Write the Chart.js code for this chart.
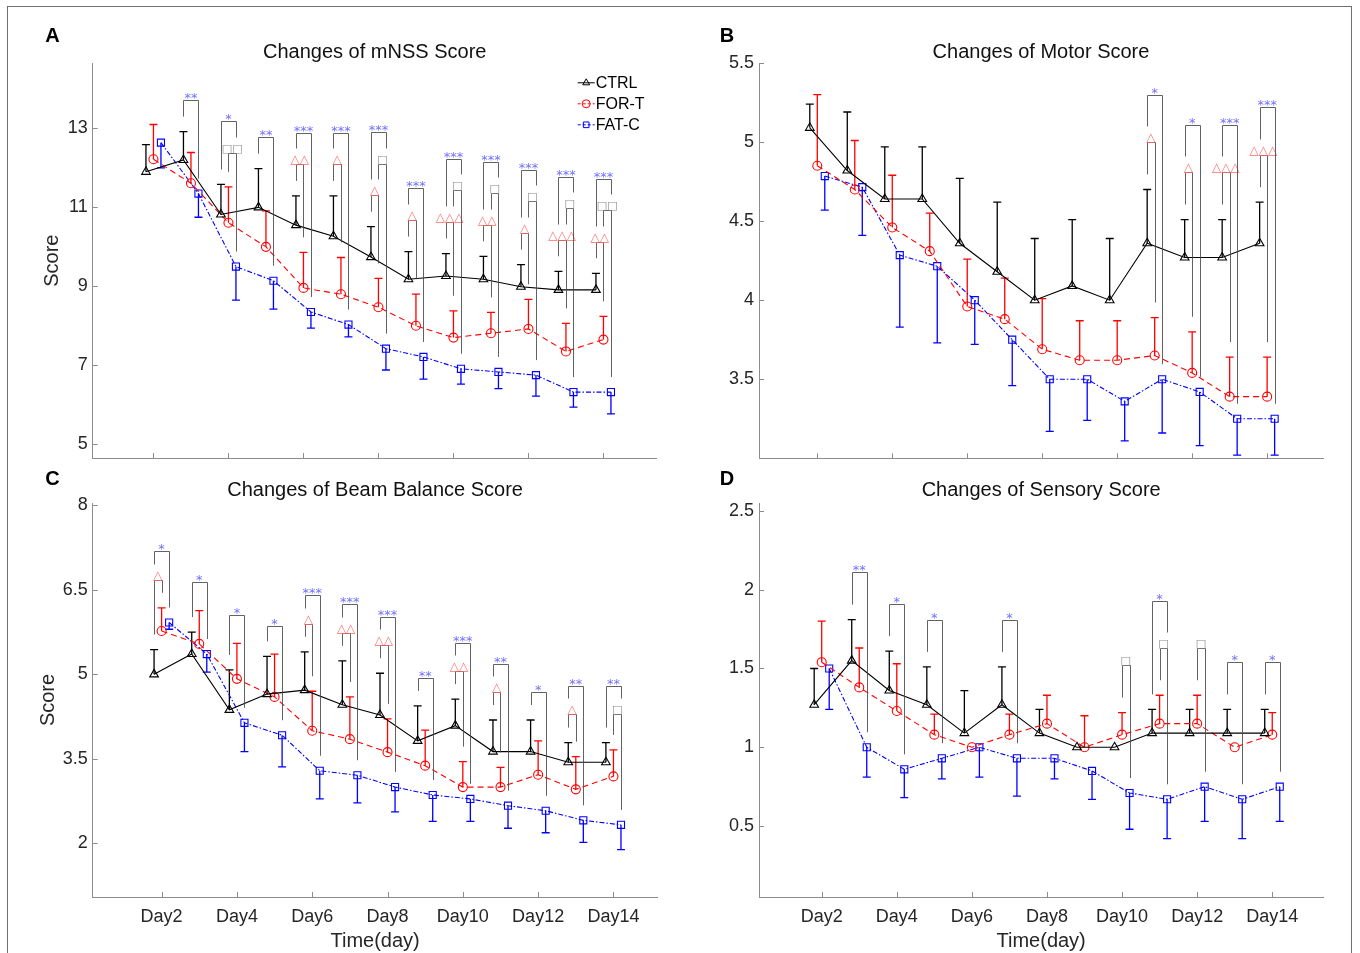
<!DOCTYPE html>
<html>
<head>
<meta charset="utf-8">
<title>Score changes</title>
<script src="https://cdn.jsdelivr.net/npm/chart.js@4.4.1/dist/chart.umd.min.js"></script>
<style>
  html, body { margin: 0; padding: 0; background: #fff; }
  body { position: relative; width: 1360px; height: 953px; overflow: hidden; }
  #frame { position: absolute; left: 7px; top: 6px; width: 1343px; height: 990px; border: 1px solid #707070; }
  canvas { position: absolute; }
</style>
</head>
<body>
<div id="frame"></div>
<canvas id="cA" width="680" height="480" style="left:0;top:0"></canvas>
<canvas id="cB" width="680" height="480" style="left:680px;top:0"></canvas>
<canvas id="cC" width="680" height="513" style="left:0;top:440px"></canvas>
<canvas id="cD" width="680" height="513" style="left:680px;top:440px"></canvas>
<script>
// jours et libellés
const days = [2, 3, 4, 5, 6, 7, 8, 9, 10, 11, 12, 13, 14];
const tickDays = [2, 4, 6, 8, 10, 12, 14];
const dayLabels = ['Day2', 'Day4', 'Day6', 'Day8', 'Day10', 'Day12', 'Day14'];
const seriesNames = ['CTRL', 'FOR-T', 'FAT-C'];

// A - mNSS
const mnssTicks = [5, 7, 9, 11, 13];
const mnssCtrl = [11.90, 12.20, 10.82, 11.00, 10.55, 10.27, 9.74, 9.18, 9.26, 9.18, 8.99, 8.91, 8.91];
const mnssCtrlSd = [0.69, 0.72, 0.76, 0.98, 0.74, 1.02, 0.77, 0.70, 0.57, 0.58, 0.56, 0.47, 0.42];
const mnssFort = [12.22, 11.61, 10.61, 10.00, 8.96, 8.80, 8.47, 8.00, 7.70, 7.81, 7.92, 7.35, 7.65];
const mnssFortSd = [0.88, 0.78, 0.91, 0.91, 0.90, 0.93, 0.73, 0.80, 0.68, 0.53, 0.75, 0.71, 0.59];
const mnssFatc = [12.64, 11.35, 9.50, 9.14, 8.35, 8.03, 7.42, 7.21, 6.91, 6.83, 6.75, 6.32, 6.32];
const mnssFatcSd = [0.64, 0.60, 0.85, 0.72, 0.41, 0.31, 0.54, 0.56, 0.39, 0.42, 0.53, 0.38, 0.55];
const mnssStars = [0, 2, 1, 2, 3, 3, 3, 3, 3, 3, 3, 3, 3];
const mnssTri = [0, 0, 0, 0, 2, 1, 1, 1, 3, 2, 1, 3, 2];
const mnssSq = [0, 0, 2, 0, 0, 0, 1, 0, 1, 1, 1, 1, 2];

// B - Motor
const motorTicks = [3.5, 4, 4.5, 5, 5.5];
const motorCtrl = [5.09, 4.82, 4.64, 4.64, 4.36, 4.18, 4.00, 4.09, 4.00, 4.36, 4.27, 4.27, 4.36];
const motorCtrlSd = [0.15, 0.37, 0.33, 0.33, 0.41, 0.44, 0.39, 0.42, 0.39, 0.34, 0.24, 0.24, 0.26];
const motorFort = [4.85, 4.70, 4.46, 4.31, 3.96, 3.88, 3.69, 3.62, 3.62, 3.65, 3.54, 3.39, 3.39];
const motorFortSd = [0.45, 0.31, 0.33, 0.24, 0.30, 0.26, 0.32, 0.25, 0.25, 0.24, 0.26, 0.25, 0.25];
const motorFatc = [4.785, 4.715, 4.285, 4.215, 4.00, 3.75, 3.50, 3.50, 3.36, 3.50, 3.42, 3.25, 3.25];
const motorFatcSd = [0.215, 0.305, 0.455, 0.485, 0.28, 0.29, 0.33, 0.26, 0.25, 0.34, 0.34, 0.23, 0.23];
const motorStars = [0, 0, 0, 0, 0, 0, 0, 0, 0, 1, 1, 3, 3];
const motorTri = [0, 0, 0, 0, 0, 0, 0, 0, 0, 1, 1, 3, 3];
const motorSq = [0, 0, 0, 0, 0, 0, 0, 0, 0, 0, 0, 0, 0];

// C - Beam Balance
const beamTicks = [2, 3.5, 5, 6.5, 8];
const beamCtrl = [5.00, 5.36, 4.37, 4.65, 4.72, 4.46, 4.28, 3.82, 4.09, 3.63, 3.63, 3.44, 3.44];
const beamCtrlSd = [0.44, 0.39, 0.71, 0.67, 0.68, 0.78, 0.74, 0.62, 0.47, 0.56, 0.56, 0.35, 0.35];
const beamFort = [5.77, 5.54, 4.92, 4.60, 4.00, 3.85, 3.62, 3.38, 3.00, 3.00, 3.22, 2.96, 3.19];
const beamFortSd = [0.41, 0.59, 0.63, 0.76, 0.70, 0.75, 0.59, 0.63, 0.45, 0.35, 0.60, 0.58, 0.47];
const beamFatc = [5.92, 5.36, 4.14, 3.92, 3.29, 3.21, 3.00, 2.86, 2.79, 2.67, 2.58, 2.41, 2.33];
const beamFatcSd = [0.12, 0.32, 0.51, 0.56, 0.50, 0.49, 0.44, 0.47, 0.40, 0.40, 0.39, 0.39, 0.44];
const beamStars = [1, 1, 1, 1, 3, 3, 3, 2, 3, 2, 1, 2, 2];
const beamTri = [1, 0, 0, 0, 1, 2, 2, 0, 2, 1, 0, 1, 0];
const beamSq = [0, 0, 0, 0, 0, 0, 0, 0, 0, 0, 0, 0, 1];

// D - Sensory
const sensTicks = [0.5, 1, 1.5, 2, 2.5];
const sensCtrl = [1.27, 1.55, 1.36, 1.27, 1.09, 1.27, 1.09, 1.00, 1.00, 1.09, 1.09, 1.09, 1.09];
const sensCtrlSd = [0.23, 0.26, 0.25, 0.24, 0.27, 0.24, 0.15, 0, 0, 0.15, 0.15, 0.15, 0.15];
const sensFort = [1.54, 1.38, 1.23, 1.08, 1.00, 1.08, 1.15, 1.00, 1.08, 1.15, 1.15, 1.00, 1.08];
const sensFortSd = [0.26, 0.25, 0.30, 0.13, 0, 0.13, 0.18, 0.20, 0.14, 0.18, 0.18, 0, 0.14];
const sensFatc = [1.50, 1.00, 0.86, 0.93, 1.00, 0.93, 0.93, 0.85, 0.71, 0.67, 0.75, 0.67, 0.75];
const sensFatcSd = [0.26, 0.19, 0.18, 0.13, 0.19, 0.24, 0.13, 0.18, 0.23, 0.25, 0.22, 0.25, 0.22];
const sensStars = [0, 2, 1, 1, 0, 1, 0, 0, 0, 1, 0, 1, 1];
const sensTri = [0, 0, 0, 0, 0, 0, 0, 0, 0, 0, 0, 0, 0];
const sensSq = [0, 0, 0, 0, 0, 0, 0, 0, 1, 1, 1, 0, 0];

const family = "'Liberation Sans', Arial, Helvetica, sans-serif";
const axisColor = '#8c8c8c';
const textColor = '#262626';
const bracketColor = 'rgba(70,70,70,0.85)';

// style des séries : décalage en x, sens de la barre d'erreur
const seriesStyle = [
    { color: '#000000', dash: [], point: 'triangle', radius: 5, dx: -0.2, dir: 1 },
    { color: '#ff0000', dash: [6, 4], point: 'circle', radius: 4.5, dx: 0, dir: 1 },
    { color: '#0000ff', dash: [5, 2, 1.5, 2], point: 'rect', radius: 5, dx: 0.2, dir: -1 }
];

function marker(ctx, style, x, y, r) {
    ctx.beginPath();
    if (style === 'triangle') {
        ctx.moveTo(x, y - r);
        ctx.lineTo(x + r * 0.866, y + r * 0.5);
        ctx.lineTo(x - r * 0.866, y + r * 0.5);
        ctx.closePath();
    } else if (style === 'circle') {
        ctx.arc(x, y, r, 0, Math.PI * 2);
    } else {
        const h = r * 0.707;
        ctx.rect(x - h, y - h, 2 * h, 2 * h);
    }
    ctx.stroke();
}

// barres d'erreur (vers le haut pour CTRL / FOR-T, vers le bas pour FAT-C)
const errorBars = {
    id: 'errorBars',
    beforeDatasetsDraw(chart) {
        const ctx = chart.ctx, xs = chart.scales.x, ys = chart.scales.y;
        chart.data.datasets.forEach((ds) => {
            ctx.save();
            ctx.strokeStyle = ds.borderColor;
            ctx.lineWidth = 1.3;
            ds.data.forEach((pt, i) => {
                const sd = ds.sd[i];
                if (!sd) return;
                const px = xs.getPixelForValue(pt.x);
                const y0 = ys.getPixelForValue(pt.y);
                const y1 = ys.getPixelForValue(pt.y + ds.dir * sd);
                ctx.beginPath();
                ctx.moveTo(px, y0);
                ctx.lineTo(px, y1);
                ctx.moveTo(px - 4, y1);
                ctx.lineTo(px + 4, y1);
                ctx.stroke();
            });
            ctx.restore();
        });
    }
};

// crochets de significativité
function sigPlugin(p) {
    return {
        id: 'sig',
        afterDatasetsDraw(chart) {
            const ctx = chart.ctx, xs = chart.scales.x, ys = chart.scales.y;
            const Y = (v) => ys.getPixelForValue(v);
            days.forEach((d, i) => {
                const px = seriesStyle.map(s => xs.getPixelForValue(d + s.dx));
                const topVals = [p.ctrl[i] + p.ctrlSd[i], p.fort[i] + p.fortSd[i], p.fatc[i]];
                const base = Math.max.apply(null, topVals);
                const legBottom = topVals.map(v => Y(v) - 15);
                const marks = [];
                if (p.tri[i]) marks.push({ a: 0, b: 1, text: '\u25B3'.repeat(p.tri[i]), kind: 'tri' });
                if (p.sq[i]) marks.push({ a: 1, b: 2, text: '\u25A1'.repeat(p.sq[i]), kind: 'sq' });
                if (p.stars[i]) marks.push({ a: 0, b: 2, text: '*'.repeat(p.stars[i]), kind: 'star' });
                marks.forEach((m, k) => {
                    const yb = Math.round(Y(base + (k + 1) * p.step)) + 0.5;
                    const xa = Math.round(px[m.a]) + 0.5, xb = Math.round(px[m.b]) + 0.5;
                    ctx.save();
                    ctx.strokeStyle = bracketColor;
                    ctx.lineWidth = 1;
                    ctx.beginPath();
                    ctx.moveTo(xa, legBottom[m.a]);
                    ctx.lineTo(xa, yb);
                    ctx.lineTo(xb, yb);
                    ctx.lineTo(xb, legBottom[m.b]);
                    ctx.stroke();
                    ctx.textAlign = 'center';
                    ctx.textBaseline = 'alphabetic';
                    const cx = (px[m.a] + px[m.b]) / 2;
                    if (m.kind === 'star') {
                        ctx.font = "13px 'DejaVu Sans'";
                        ctx.fillStyle = '#7070ff';
                        ctx.fillText(m.text, cx, yb + 1.5);
                    } else if (m.kind === 'tri') {
                        ctx.font = "12px 'DejaVu Sans'";
                        ctx.fillStyle = '#ff6a6a';
                        ctx.fillText(m.text, cx, yb - 1.5);
                    } else {
                        ctx.font = "11px 'DejaVu Sans'";
                        ctx.fillStyle = '#8a8a8a';
                        ctx.fillText(m.text, cx, yb - 1.5);
                    }
                    ctx.restore();
                    if (m.kind !== 'star') {
                        legBottom[m.a] = yb - 16;
                        legBottom[m.b] = yb - 16;
                    }
                });
            });
        }
    };
}

// graduations intérieures, lettre du panneau, légende
function decorPlugin(p) {
    return {
        id: 'decor',
        afterDraw(chart) {
            const ctx = chart.ctx, a = chart.chartArea, xs = chart.scales.x, ys = chart.scales.y;
            ctx.save();
            ctx.strokeStyle = axisColor;
            ctx.lineWidth = 1;
            ctx.beginPath();
            p.yTicks.forEach(v => {
                const y = Math.round(ys.getPixelForValue(v)) + 0.5;
                ctx.moveTo(a.left, y);
                ctx.lineTo(a.left + 5, y);
            });
            tickDays.forEach(v => {
                const x = Math.round(xs.getPixelForValue(v)) + 0.5;
                ctx.moveTo(x, a.bottom);
                ctx.lineTo(x, a.bottom - 5);
            });
            ctx.stroke();

            ctx.fillStyle = '#000';
            ctx.font = 'bold 20px ' + family;
            ctx.textAlign = 'center';
            ctx.textBaseline = 'middle';
            ctx.fillText(p.letter, p.letterX, p.letterY);

            if (p.legend) {
                const rows = [19.5, 40.5, 61.5];
                const x0 = a.right - 79, x1 = a.right - 62;
                seriesNames.forEach((name, k) => {
                    const s = seriesStyle[k];
                    const y = a.top + rows[k];
                    ctx.strokeStyle = s.color;
                    ctx.lineWidth = 1;
                    ctx.setLineDash(k === 0 ? [] : [3, 2]);
                    ctx.beginPath();
                    ctx.moveTo(x0, y);
                    ctx.lineTo(x1, y);
                    ctx.stroke();
                    ctx.setLineDash([]);
                    marker(ctx, s.point, (x0 + x1) / 2, y, 4);
                    ctx.fillStyle = '#000';
                    ctx.font = '16px ' + family;
                    ctx.textAlign = 'left';
                    ctx.textBaseline = 'middle';
                    ctx.fillText(name, x1 + 1, y + 1);
                });
            }
            ctx.restore();
        }
    };
}

function buildPanel(p) {
    const values = [[p.ctrl, p.ctrlSd], [p.fort, p.fortSd], [p.fatc, p.fatcSd]];
    const datasets = values.map((v, k) => {
        const s = seriesStyle[k];
        return {
            label: seriesNames[k],
            data: days.map((d, i) => ({ x: d + s.dx, y: v[0][i] })),
            sd: v[1],
            dir: s.dir,
            borderColor: s.color,
            borderWidth: 1.1,
            borderDash: s.dash,
            tension: 0,
            fill: false,
            pointStyle: s.point,
            pointRadius: s.radius,
            pointBorderWidth: 1.1,
            pointBorderColor: s.color,
            pointBackgroundColor: 'rgba(255,255,255,0)'
        };
    });

    new Chart(document.getElementById(p.id), {
        type: 'line',
        data: { datasets: datasets },
        options: {
            responsive: false,
            animation: false,
            events: [],
            devicePixelRatio: 1,
            layout: { padding: { left: 0, right: p.padRight, top: 0, bottom: 0 } },
            plugins: {
                legend: { display: false },
                tooltip: { enabled: false },
                title: {
                    display: true,
                    text: p.title,
                    fullSize: false,
                    color: '#111',
                    font: { family: family, size: 20, weight: 'normal', lineHeight: 1 },
                    padding: { top: p.titleTop, bottom: p.titleBottom }
                }
            },
            scales: {
                x: {
                    type: 'linear',
                    min: p.xMin,
                    max: p.xMax,
                    afterBuildTicks: (s) => { s.ticks = tickDays.map(v => ({ value: v })); },
                    afterFit: (s) => { s.height = p.xHeight; },
                    grid: { display: false, drawTicks: false },
                    border: { display: true, color: axisColor, width: 1 },
                    ticks: {
                        display: p.showX,
                        padding: 9,
                        color: textColor,
                        font: { family: family, size: 18 },
                        callback: (v) => dayLabels[tickDays.indexOf(v)]
                    },
                    title: {
                        display: p.showX,
                        text: 'Time(day)',
                        color: textColor,
                        font: { family: family, size: 20 },
                        padding: { top: 0, bottom: 0 }
                    }
                },
                y: {
                    type: 'linear',
                    min: p.yMin,
                    max: p.yMax,
                    afterBuildTicks: (s) => { s.ticks = p.yTicks.map(v => ({ value: v })); },
                    afterFit: (s) => { s.width = p.yWidth; },
                    grid: { display: false, drawTicks: false },
                    border: { display: true, color: axisColor, width: 1 },
                    ticks: {
                        padding: 5,
                        color: textColor,
                        font: { family: family, size: 18 },
                        callback: (v) => String(v)
                    },
                    title: {
                        display: !!p.yTitle,
                        text: p.yTitle || '',
                        color: textColor,
                        font: { family: family, size: 20 },
                        padding: { top: p.yTitlePad || 0, bottom: p.yTitlePad || 0 }
                    }
                }
            }
        },
        plugins: [errorBars, sigPlugin(p), decorPlugin(p)]
    });
}

buildPanel({
    id: 'cA', letter: 'A', letterX: 52.5, letterY: 36.5, legend: true,
    title: 'Changes of mNSS Score', titleTop: 42, titleBottom: 1.3,
    ctrl: mnssCtrl, ctrlSd: mnssCtrlSd, fort: mnssFort, fortSd: mnssFortSd, fatc: mnssFatc, fatcSd: mnssFatcSd,
    stars: mnssStars, tri: mnssTri, sq: mnssSq, step: 0.8,
    yTicks: mnssTicks, yMin: 4.65, yMax: 14.65, xMin: 0.38, xMax: 15.42,
    yWidth: 92.7, padRight: 23.3, xHeight: 22, showX: false, yTitle: 'Score', yTitlePad: 40
});
buildPanel({
    id: 'cB', letter: 'B', letterX: 47, letterY: 36.5, legend: false,
    title: 'Changes of Motor Score', titleTop: 42, titleBottom: 1,
    ctrl: motorCtrl, ctrlSd: motorCtrlSd, fort: motorFort, fortSd: motorFortSd, fatc: motorFatc, fatcSd: motorFatcSd,
    stars: motorStars, tri: motorTri, sq: motorSq, step: 0.3,
    yTicks: motorTicks, yMin: 3.0, yMax: 5.5, xMin: 0.445, xMax: 15.49,
    yWidth: 79, padRight: 37, xHeight: 21.7, showX: false
});
buildPanel({
    id: 'cC', letter: 'C', letterX: 52.5, letterY: 39, legend: false,
    title: 'Changes of Beam Balance Score', titleTop: 40.5, titleBottom: 2.5,
    ctrl: beamCtrl, ctrlSd: beamCtrlSd, fort: beamFort, fortSd: beamFortSd, fatc: beamFatc, fatcSd: beamFatcSd,
    stars: beamStars, tri: beamTri, sq: beamSq, step: 0.5,
    yTicks: beamTicks, yMin: 1.05, yMax: 8.04, xMin: 0.17, xMax: 15.17,
    yWidth: 92.7, padRight: 22.5, xHeight: 56, showX: true, yTitle: 'Score', yTitlePad: 36
});
buildPanel({
    id: 'cD', letter: 'D', letterX: 47, letterY: 39.5, legend: false,
    title: 'Changes of Sensory Score', titleTop: 40.5, titleBottom: 2.5,
    ctrl: sensCtrl, ctrlSd: sensCtrlSd, fort: sensFort, fortSd: sensFortSd, fatc: sensFatc, fatcSd: sensFatcSd,
    stars: sensStars, tri: sensTri, sq: sensSq, step: 0.3,
    yTicks: sensTicks, yMin: 0.05, yMax: 2.55, xMin: 0.33, xMax: 15.36,
    yWidth: 79, padRight: 36.7, xHeight: 56, showX: true
});
</script>
</body>
</html>
